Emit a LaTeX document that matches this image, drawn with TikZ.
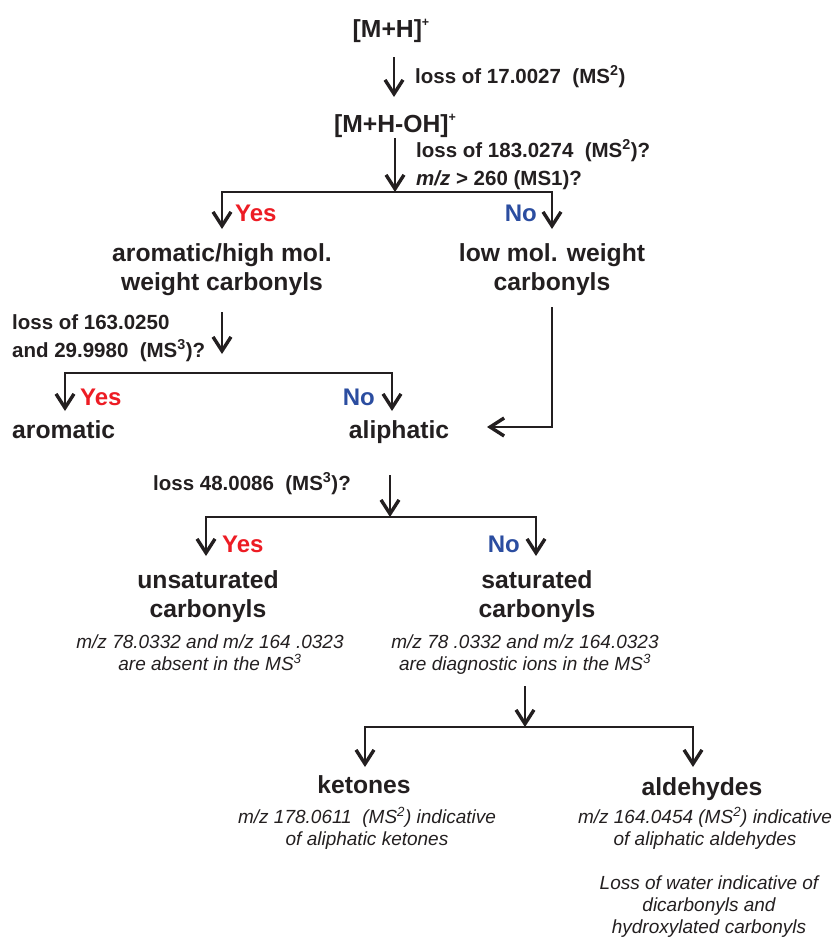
\documentclass[tikz,border=0pt]{standalone}
\usepackage{fontspec}
\setmainfont{Liberation Sans}
\usetikzlibrary{arrows.meta}
\definecolor{ink}{HTML}{231F20}
\definecolor{yesred}{HTML}{ED1C24}
\definecolor{noblue}{HTML}{2B4DA0}
\newcommand{\supx}[1]{\raisebox{0.8ex}{\fontsize{12.5}{12.5}\selectfont #1}}
\begin{document}
\begin{tikzpicture}[x=1pt,y=-1pt,
  main/.style={font=\fontsize{24.7}{29}\selectfont\bfseries, text=ink, align=center, inner sep=0pt, anchor=base},
  qlab/.style={font=\fontsize{20.5}{27.5}\selectfont\bfseries, text=ink, align=left, inner sep=0pt, anchor=base west},
  note/.style={font=\fontsize{19}{22}\selectfont\itshape, text=ink, align=center, inner sep=0pt, anchor=base},
  yeslab/.style={font=\fontsize{24}{28}\selectfont\bfseries, text=yesred, inner sep=0pt, anchor=base west},
  nolab/.style={font=\fontsize{24}{28}\selectfont\bfseries, text=noblue, inner sep=0pt, anchor=base east},
  arr/.style={draw=ink, line width=2.4pt, -{Straight Barb[length=14pt,width=18pt,line width=3.4pt]}},
  ln/.style={draw=ink, line width=2.4pt}]
\useasboundingbox (0,0) rectangle (832,937);

% labels
\node[main] (mh) at (391,37) {[M+H]\supx{+}};
\node[qlab] (q1) at (415,83) {loss of 17.0027\ \ (MS\textsuperscript{2})};
\node[main] (mhoh) at (395,132) {[M+H-OH]\supx{+}};
\node[qlab] (q2) at (416,185) {loss of 183.0274\ \ (MS\textsuperscript{2})?\\\textit{m/z} > 260 (MS1)?};
\node[yeslab] (y1) at (235,221) {Yes};
\node[nolab] (n1) at (537,221) {No};
\node[main] (arom) at (222,290) {aromatic/high mol.\\weight carbonyls};
\node[main] (low) at (552,290) {low mol. weight\\carbonyls};
\node[qlab] (q3) at (12,357) {loss of 163.0250\\and 29.9980\ \ (MS\textsuperscript{3})?};
\node[yeslab] (y2) at (80,405) {Yes};
\node[nolab] (n2) at (375,405) {No};
\node[main, anchor=base west] (aromatic) at (12,438) {aromatic};
\node[main] (aliph) at (399,438) {aliphatic};
\node[qlab] (q4) at (153,490) {loss 48.0086\ \ (MS\textsuperscript{3})?};
\node[yeslab] (y3) at (222,552) {Yes};
\node[nolab] (n3) at (520,552) {No};
\node[main] (unsat) at (208,617) {unsaturated\\carbonyls};
\node[main] (sat) at (537,617) {saturated\\carbonyls};
\node[note] (nu) at (210,670) {m/z 78.0332 and m/z 164 .0323\\are absent in the MS\textsuperscript{3}};
\node[note] (ns) at (525,670) {m/z 78 .0332 and m/z 164.0323\\are diagnostic ions in the MS\textsuperscript{3}};
\node[main] (ket) at (364,793) {ketones};
\node[main] (ald) at (702,795) {aldehydes};
\node[note] (nk) at (367,845) {m/z 178.0611\ \ (MS\textsuperscript{2}) indicative\\of aliphatic ketones};
\node[note] (na) at (705,845) {m/z 164.0454 (MS\textsuperscript{2}) indicative\\of aliphatic aldehydes};
\node[note] (nw) at (709,933) {Loss of water indicative of\\dicarbonyls and\\hydroxylated carbonyls};

% connector points
\coordinate (a1s) at (394,57);  \coordinate (a1e) at (394,97);
\coordinate (a2s) at (395,138); \coordinate (b1) at (395,192);
\coordinate (b1l) at (222,192); \coordinate (b1r) at (552,192);
\coordinate (b1lt) at (222,229); \coordinate (b1rt) at (552,229);
\coordinate (a3s) at (222,312); \coordinate (a3e) at (222,354);
\coordinate (b2l) at (65,373);  \coordinate (b2r) at (392,373);
\coordinate (b2lt) at (65,411); \coordinate (b2rt) at (392,411);
\coordinate (lows) at (552,307); \coordinate (lowc) at (552,427); \coordinate (lowt) at (487,427);
\coordinate (a4s) at (390,475); \coordinate (b3) at (390,517);
\coordinate (b3l) at (206,517); \coordinate (b3r) at (536,517);
\coordinate (b3lt) at (206,556); \coordinate (b3rt) at (536,556);
\coordinate (a5s) at (525,686); \coordinate (b4) at (525,727);
\coordinate (b4l) at (365,727); \coordinate (b4r) at (693,727);
\coordinate (b4lt) at (365,767); \coordinate (b4rt) at (693,767);

% connectors
\draw[arr] (a1s) -- (a1e);
\draw[arr] (a2s) -- (b1);
\draw[arr] (b1) -- (b1l) -- (b1lt);
\draw[arr] (b1) -- (b1r) -- (b1rt);
\draw[arr] (a3s) -- (a3e);
\draw[arr] (b2r) -- (b2l) -- (b2lt);
\draw[arr] (b2l) -- (b2r) -- (b2rt);
\draw[arr] (lows) -- (lowc) -- (lowt);
\draw[arr] (a4s) -- (b3);
\draw[arr] (b3) -- (b3l) -- (b3lt);
\draw[arr] (b3) -- (b3r) -- (b3rt);
\draw[arr] (a5s) -- (b4);
\draw[arr] (b4) -- (b4l) -- (b4lt);
\draw[arr] (b4) -- (b4r) -- (b4rt);
\end{tikzpicture}
\end{document}
